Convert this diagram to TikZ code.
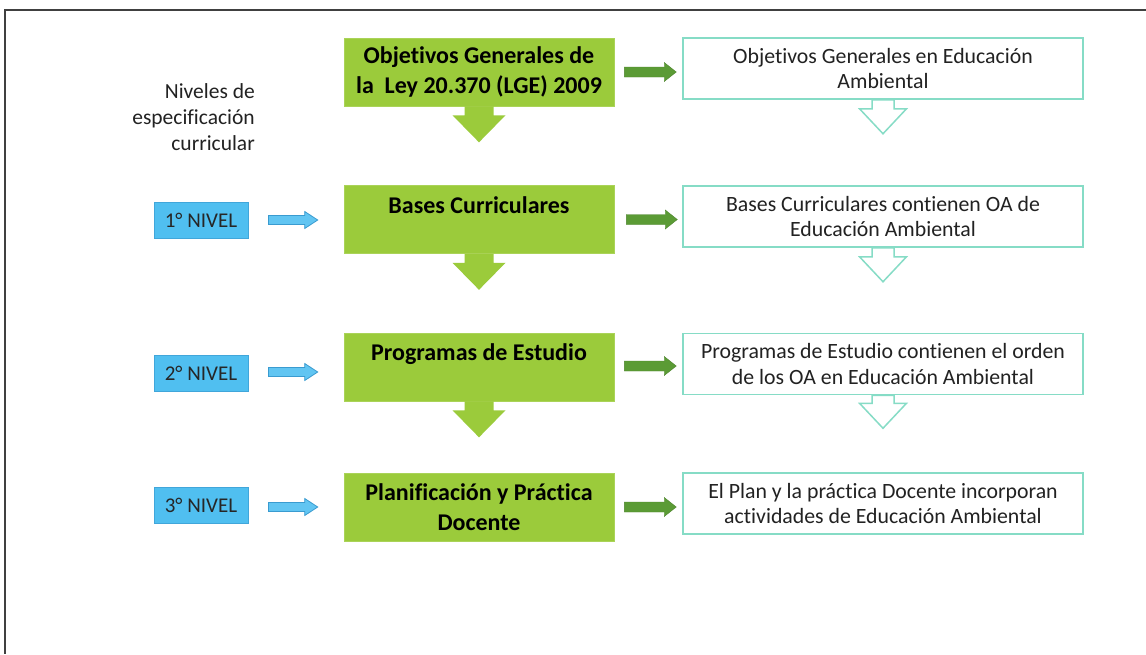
\documentclass[tikz,border=0pt]{standalone}
\usepackage{fontspec}
\setmainfont{Carlito}[Ligatures=NoCommon]
\usetikzlibrary{calc}
\definecolor{gfill}{HTML}{9BCB3B}
\definecolor{garrc}{HTML}{5B9B35}
\definecolor{teal}{HTML}{86DCC6}
\definecolor{bfill}{HTML}{50BFF0}
\definecolor{bline}{HTML}{3A9BD0}
\definecolor{txt}{HTML}{222222}
\definecolor{frame}{HTML}{404040}
\newcommand\myharrow[6]{\path[#1] let \p1=(#2), \p2=(#3) in
  (\x1,\y1+#4) -- (\x2-#6,\y1+#4) -- (\x2-#6,\y1+#5) -- (\x2,\y1) --
  (\x2-#6,\y1-#5) -- (\x2-#6,\y1-#4) -- (\x1,\y1-#4) -- cycle;}
\newcommand\myvarrow[6]{\path[#1] let \p1=(#2), \p2=(#3) in
  (\x1-#4,\y1) -- (\x1-#4,\y2+#6) -- (\x1-#5,\y2+#6) -- (\x1,\y2) --
  (\x1+#5,\y2+#6) -- (\x1+#4,\y2+#6) -- (\x1+#4,\y1) -- cycle;}
\begin{document}
\begin{tikzpicture}[x=1pt,y=-1pt,
  gbox/.style={rectangle,fill=gfill,draw=gfill!85!white,line width=0.6pt,minimum width=270pt,minimum height=68pt,inner sep=0pt},
  gtext/.style={font=\fontsize{24}{29.5}\selectfont\bfseries,align=center,text=black,inner sep=0pt},
  rbox/.style={rectangle,draw=teal,line width=1.5pt,fill=white,minimum width=400pt,minimum height=61pt,inner sep=0pt,
    font=\fontsize{21.8}{25.5}\selectfont,align=center,text=txt},
  bbox/.style={rectangle,fill=bfill,draw=bline!70!bfill,line width=1pt,minimum width=94pt,minimum height=36pt,inner sep=0pt,
    font=\fontsize{21}{24}\selectfont,text=black!85},
  garr/.style={fill=garrc,draw=garrc!85!black,line width=0.4pt},
  barr/.style={fill=bfill!90!white,draw=bline,line width=0.8pt},
  gdown/.style={fill=gfill},
  tdown/.style={fill=white,draw=teal,line width=1.5pt,line join=miter},
  lbl/.style={font=\fontsize{21.5}{26}\selectfont,align=right,text=txt,inner sep=0pt}
]
\useasboundingbox (0,0) rectangle (1146,654);
\fill[white] (0,0) rectangle (1146,654);
% frame
\coordinate (fr) at (1146,10);
\coordinate (fc) at (5,10);
\coordinate (fb) at (5,654);
\draw[frame,line width=1.5pt] (fr) -- (fc) -- (fb);

% green boxes
\node[gbox] (g1) at (479,72) {};
\node[gtext] (g1t) at (g1.center) {Objetivos Generales de\\la\ \ Ley 20.370 (LGE) 2009};
\node[gbox] (g2) at (479,219.5) {};
\node[gtext,anchor=base] (g2t) at ($(g2.north)+(0,28)$) {Bases Curriculares};
\node[gbox] (g3) at (479,367) {};
\node[gtext,anchor=base] (g3t) at ($(g3.north)+(0,28)$) {Programas de Estudio};
\node[gbox] (g4) at (479,507) {};
\node[gtext] (g4t) at (g4.center) {Planificación y Práctica\\Docente};

% right boxes
\node[rbox] (r1) at (883,68.5) {Objetivos Generales en Educación\\Ambiental};
\node[rbox] (r2) at (883,216.5) {Bases Curriculares contienen OA de\\Educación Ambiental};
\node[rbox] (r3) at (883,364) {Programas de Estudio contienen el orden\\de los OA en Educación Ambiental};
\node[rbox] (r4) at (883,503.5) {El Plan y la práctica Docente incorporan\\actividades de Educación Ambiental};

% blue boxes
\node[bbox] (b1) at (201,220) {1° NIVEL};
\node[bbox] (b2) at (201,373) {2° NIVEL};
\node[bbox] (b3) at (201,505) {3° NIVEL};

% left label
\node[lbl,anchor=east] (lab) at (255,117) {Niveles de\\especificación\\curricular};

% green down arrows
\myvarrow{gdown}{g1.south}{$(g1.south)+(0,36)$}{14.5pt}{26.5pt}{27pt}
\myvarrow{gdown}{g2.south}{$(g2.south)+(0,36)$}{14.5pt}{26.5pt}{27pt}
\myvarrow{gdown}{g3.south}{$(g3.south)+(0,36)$}{14.5pt}{26.5pt}{27pt}

% hollow teal down arrows
\myvarrow{tdown}{r1.south}{$(r1.south)+(0,34)$}{11pt}{23.5pt}{25pt}
\myvarrow{tdown}{r2.south}{$(r2.south)+(0,34)$}{11pt}{23.5pt}{25pt}
\myvarrow{tdown}{r3.south}{$(r3.south)+(0,33)$}{11pt}{23.5pt}{25pt}

% green right arrows
\myharrow{garr}{$(g1.east)+(10,0)$}{$(r1.west)+(-6,0)$}{5pt}{9.5pt}{12pt}
\myharrow{garr}{$(g2.east)+(12,0)$}{$(r2.west)+(-5,0)$}{5pt}{9.5pt}{12pt}
\myharrow{garr}{$(g3.east)+(10,-1)$}{$(r3.west)+(-6,0)$}{5pt}{9.5pt}{12pt}
\myharrow{garr}{$(g4.east)+(10,0)$}{$(r4.west)+(-6,0)$}{5pt}{9.5pt}{12pt}

% blue right arrows
\myharrow{barr}{$(b1.east)+(20,0)$}{$(g2.west)+(-26,0)$}{4.5pt}{8.5pt}{13pt}
\myharrow{barr}{$(b2.east)+(20,-1)$}{$(g3.west)+(-26,0)$}{4.5pt}{8.5pt}{13pt}
\myharrow{barr}{$(b3.east)+(20,2)$}{$(g4.west)+(-26,0)$}{4.5pt}{8.5pt}{13pt}
\end{tikzpicture}
\end{document}
